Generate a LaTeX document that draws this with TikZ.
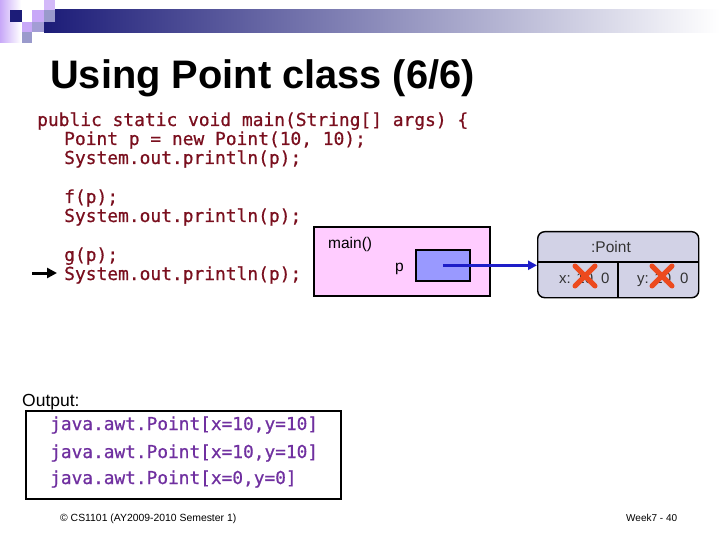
\documentclass[tikz,border=0pt]{standalone}
\usepackage{fontspec}
\setmainfont{Liberation Sans}
\newfontfamily\codefont[FakeBold=0.7]{DejaVu Sans Mono}
\usetikzlibrary{arrows.meta}
\definecolor{codered}{HTML}{7A0F1E}
\definecolor{outpurple}{HTML}{7030A0}
\definecolor{navybar}{HTML}{1C1C78}
\definecolor{lav}{HTML}{C8A8F8}
\definecolor{greyblue}{HTML}{9A9ACC}
\definecolor{pinkframe}{HTML}{FFCCFF}
\definecolor{refbox}{HTML}{9999FF}
\definecolor{objfill}{HTML}{D2D2E6}
\definecolor{crossred}{HTML}{EC4A1E}
\definecolor{fieldtxt}{HTML}{333333}
\begin{document}
\begin{tikzpicture}[x=1pt,y=-1pt,
  code/.style={anchor=base west, inner sep=0pt, text=codered, font=\codefont\fontsize{17.9}{19}\selectfont},
  outline/.style={anchor=base west, inner sep=0pt, text=outpurple, font=\codefont\fontsize{17.8}{19}\selectfont},
  sans/.style={anchor=base west, inner sep=0pt, font=\fontsize{#1}{#1}\selectfont},
  sans/.default=15.5,
  crossmark/.style={crossred, line width=5pt, line cap=round},
  thinframe/.style={draw=black, line width=1.6pt}]
\useasboundingbox (0,0) rectangle (720,540);
\fill[white] (0,0) rectangle (720,540);
% decoration top-left
\shade[left color=lav, right color=white] (0,0) rectangle (21,43);
\shade[left color=navybar, middle color={rgb,255:red,150;green,150;blue,178}, right color=white] (44,10) rectangle (720,33);
\fill[navybar] (10,10) rectangle (22,22);
\fill[lav] (32,10) rectangle (44,22);
\fill[lav!80] (44,0) rectangle (55,10);
\fill[greyblue] (44,10) rectangle (55,22);
\fill[lav] (22,22) rectangle (32,32);
\fill[greyblue!80!lav] (32,22) rectangle (44,32);
\fill[greyblue] (22,32) rectangle (32,43);
% title
\node[anchor=base west, inner sep=0pt, font=\bfseries\fontsize{39.8}{40}\selectfont] (title) at (50,89) {Using Point class (6/6)};
% code
\node[code] (c1) at (37,126) {public static void main(String[] args) \{};
\node[code] (c2) at (64,145) {Point p = new Point(10, 10);};
\node[code] (c3) at (64,164) {System.out.println(p);};
\node[code] (c4) at (64,203) {f(p);};
\node[code] (c5) at (64,222) {System.out.println(p);};
\node[code] (c6) at (64,261) {g(p);};
\node[code] (c7) at (64,280) {System.out.println(p);};
% current line arrow
\coordinate (ca) at (32,273);
\coordinate (cb) at (57,273);
\draw[line width=3pt, -{Triangle[length=10pt,width=10pt]}] (ca) -- (cb);
% main frame
\node[thinframe, fill=pinkframe, minimum width=176pt, minimum height=69pt, anchor=north west, inner sep=0pt] (frame) at (313,226) {};
\node[sans=15.5] (mainlbl) at (328,248) {main()};
\node[sans=15.5] (plbl) at (395,271) {p};
\node[thinframe, fill=refbox, minimum width=54pt, minimum height=31pt, anchor=north west, inner sep=0pt] (pbox) at (415,249) {};
% object
\node[draw=black, line width=1.4pt, fill=objfill, rounded corners=7pt, minimum width=161pt, minimum height=66pt, anchor=north west, inner sep=0pt] (obj) at (537,231) {};
\draw[line width=1.2pt] (obj.west |- 0,262) -- (obj.east |- 0,262);
\draw[line width=1.2pt] (618,262) -- (618,297);
\node[anchor=base, inner sep=0pt, font=\fontsize{15.5}{15.5}\selectfont, text=fieldtxt] (cls) at (611,252) {:Point};
\node[sans=15, text=fieldtxt] (xl) at (559,283) {x: 10};
\node[sans=15, text=fieldtxt] (xv) at (601,283) {0};
\node[sans=15, text=fieldtxt] (yl) at (637,283) {y: 10};
\node[sans=15, text=fieldtxt] (yv) at (680,283) {0};
\coordinate (xc) at (585,276);
\coordinate (yc) at (662,276);
\draw[crossmark] ([shift={(-10,-10)}]xc) -- ([shift={(10,10)}]xc);
\draw[crossmark] ([shift={(-10,10)}]xc) -- ([shift={(10,-10)}]xc);
\draw[crossmark] ([shift={(-10,-10)}]yc) -- ([shift={(10,10)}]yc);
\draw[crossmark] ([shift={(-10,10)}]yc) -- ([shift={(10,-10)}]yc);
% reference arrow
\draw[draw={rgb,255:red,30;green,30;blue,200}, line width=2.6pt, -{Triangle[length=9pt,width=9pt]}] (pbox.center) -- (obj.west |- pbox.center);
% output
\node[sans=17.5] (outlbl) at (22,406) {Output:};
\node[thinframe, minimum width=315pt, minimum height=88pt, anchor=north west, inner sep=0pt] (outbox) at (25,410) {};
\node[outline] (o1) at (50,430) {java.awt.Point[x=10,y=10]};
\node[outline] (o2) at (50,458) {java.awt.Point[x=10,y=10]};
\node[outline] (o3) at (50,484) {java.awt.Point[x=0,y=0]};
% footer
\node[sans=10.4] (foot1) at (60,521) {© CS1101 (AY2009-2010 Semester 1)};
\node[sans=10] (foot2) at (626,521) {Week7 - 40};
\end{tikzpicture}
\end{document}
